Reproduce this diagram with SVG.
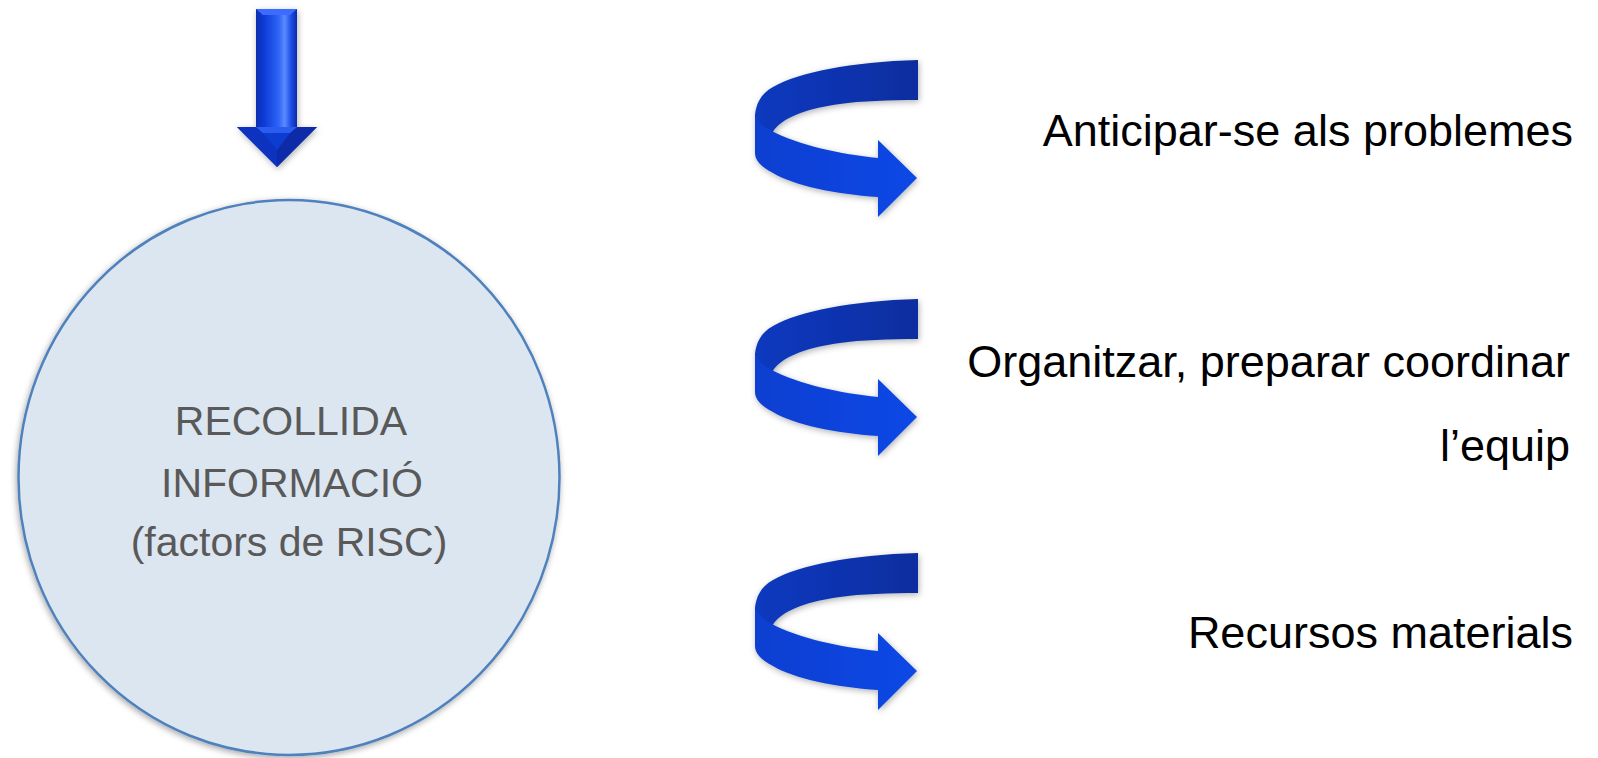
<svg xmlns="http://www.w3.org/2000/svg" width="1598" height="758" viewBox="0 0 1598 758">
<defs>
  <style>
    .ctext { font-family: "Liberation Sans", Arial, sans-serif; font-size: 41px; fill: #595959; text-anchor: middle; }
    .rtext { font-family: "Liberation Sans", Arial, sans-serif; font-size: 45px; fill: #000000; text-anchor: end; }
    .back { fill: url(#gBack); }
    .front { fill: url(#gFront); }
  </style>
  <filter id="shadow" x="-10%" y="-10%" width="120%" height="120%">
    <feDropShadow dx="-1" dy="2" stdDeviation="3" flood-color="#000" flood-opacity="0.35"/>
  </filter>
  <filter id="ashadow" x="-20%" y="-20%" width="140%" height="140%">
    <feDropShadow dx="1" dy="2" stdDeviation="3" flood-color="#000" flood-opacity="0.3"/>
  </filter>
  <linearGradient id="gBack" x1="0" y1="0" x2="1" y2="0">
    <stop offset="0" stop-color="#0B3ABF"/>
    <stop offset="0.5" stop-color="#0A33B0"/>
    <stop offset="1" stop-color="#0A2E9E"/>
  </linearGradient>
  <linearGradient id="gFront" x1="0" y1="0" x2="1" y2="0">
    <stop offset="0" stop-color="#0A3FD0"/>
    <stop offset="0.6" stop-color="#0B44DE"/>
    <stop offset="1" stop-color="#0A47E6"/>
  </linearGradient>
  <linearGradient id="gShaft" x1="0" y1="0" x2="1" y2="0">
    <stop offset="0" stop-color="#0A2DB0"/>
    <stop offset="0.2" stop-color="#0D3CD8"/>
    <stop offset="0.55" stop-color="#2F63F5"/>
    <stop offset="0.7" stop-color="#5A8BFF"/>
    <stop offset="0.85" stop-color="#1D4EE8"/>
    <stop offset="1" stop-color="#0A2BA8"/>
  </linearGradient>
  <g id="curl">
    <path class="back" d="M178,10 L178,50 C150,50 120,51 100,54 C70,58 45,66 34,80 L22,100 L15,100 L15,65 C16,55 20,44 33,37 C60,22 110,12 178,10 Z"/>
    <path class="front" d="M15,65 C18,72 24,77 30,80 C60,96 100,104 138,108 L138,90 L177,128 L138,167 L138,147 C95,144 55,136 33,123 C20,116 15,110 15,103 Z"/>
  </g>
</defs>
<rect width="1598" height="758" fill="#FFFFFF"/>

<g id="connectors">
  <g id="down-arrow" filter="url(#ashadow)">
    <rect x="256" y="9" width="41" height="118" fill="url(#gShaft)"/>
    <polygon points="256,9 297,9 290,15 263,15" fill="#3D6BFF"/>
    <polygon points="237,127 317,127 277,167" fill="#0B3CD0"/>
    <polygon points="237,127 256,127 263,133 277,150 277,167" fill="#0A33C0"/>
    <polygon points="297,127 317,127 277,167 277,150 290,133" fill="#0A2CA8"/>
    <polygon points="256,127 297,127 290,133 263,133" fill="#2A5CF0"/>
  </g>
  <g id="curl-1" filter="url(#ashadow)"><use href="#curl" transform="translate(740,50)"/></g>
  <g id="curl-2" filter="url(#ashadow)"><use href="#curl" transform="translate(740,289)"/></g>
  <g id="curl-3" filter="url(#ashadow)"><use href="#curl" transform="translate(740,543)"/></g>
</g>

<g id="node-recollida">
  <ellipse cx="289" cy="477.5" rx="270.5" ry="277.5" fill="#DCE6F1" stroke="#4F81BD" stroke-width="2.5" filter="url(#shadow)"/>
  <text class="ctext" x="291" y="435">RECOLLIDA</text>
  <text class="ctext" x="292" y="497">INFORMACIÓ</text>
  <text class="ctext" x="289" y="556">(factors de RISC)</text>
</g>

<g id="node-anticipar">
  <text class="rtext" x="1573" y="146">Anticipar-se als problemes</text>
</g>
<g id="node-organitzar">
  <text class="rtext" x="1570" y="377">Organitzar, preparar coordinar</text>
  <text class="rtext" x="1570" y="461">l’equip</text>
</g>
<g id="node-recursos">
  <text class="rtext" x="1573" y="648">Recursos materials</text>
</g>
</svg>
